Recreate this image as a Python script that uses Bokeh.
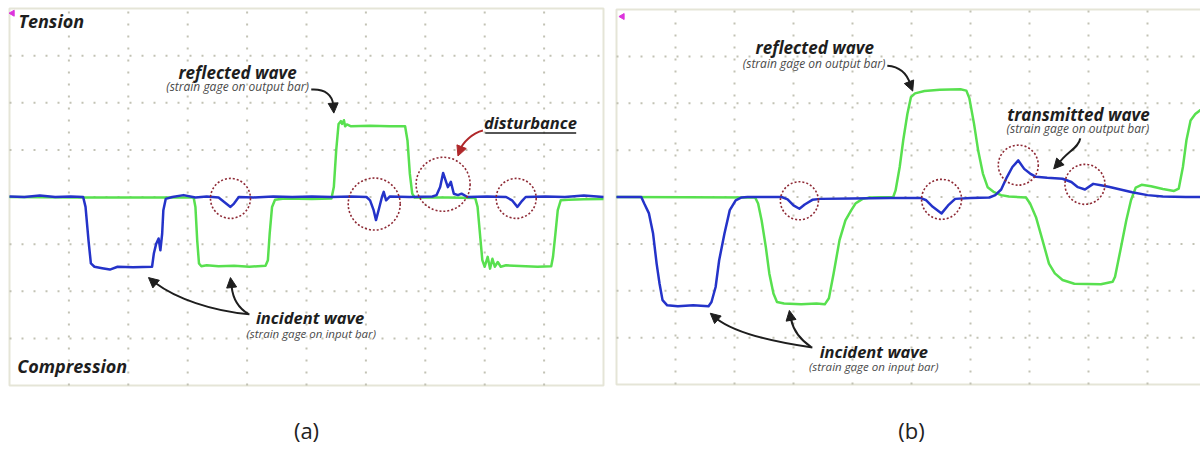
from bokeh.plotting import figure
from bokeh.models import Range1d, Label, Arrow, NormalHead, BoxAnnotation
from bokeh.layouts import row
from bokeh.embed import file_html
from bokeh.resources import INLINE

# ---------------- data (oscilloscope divisions) ----------------
# panel (a)
A_BLUE_X = [0, 0.25, 0.51, 0.77, 1.03, 1.24, 1.28, 1.33, 1.37, 1.43, 1.56, 1.69, 1.82, 2.08,
            2.40, 2.43, 2.47, 2.51, 2.54, 2.57, 2.59, 2.63, 2.74, 2.93, 3.13, 3.32, 3.52, 3.62,
            3.72, 3.78, 3.86, 4.11, 4.44, 4.76, 5.09, 5.42, 5.75, 6.01, 6.07, 6.13, 6.17, 6.22,
            6.27, 6.30, 6.34, 6.40, 6.73, 7.12, 7.19, 7.25, 7.30, 7.35, 7.38, 7.43, 7.48, 7.55,
            7.61, 7.71, 8.04, 8.36, 8.46, 8.55, 8.63, 8.69, 9.02, 9.35, 9.67, 10.0]
A_BLUE_Y = [0.01, 0, 0.03, 0, 0.01, 0, -0.21, -0.92, -1.41, -1.48, -1.51, -1.54, -1.48, -1.49,
            -1.48, -1.20, -0.99, -0.88, -1.13, -0.78, -0.28, -0.04, 0, 0.04, -0.01, 0.01, -0.01, -0.11,
            -0.21, -0.14, 0, -0.01, 0.01, 0, 0.01, 0, 0.01, 0, -0.07, -0.28, -0.49, -0.25,
            0, 0.11, -0.07, 0.01, 0, 0.01, 0.04, 0.21, 0.51, 0.32, 0.21, 0.32, 0.07, 0.04,
            0.07, 0, 0.01, 0, -0.07, -0.21, -0.08, 0, 0.01, 0, 0.03, 0]
A_GREEN_X = [0, 1.16, 1.82, 2.47, 3.10, 3.13, 3.16, 3.19, 3.23, 3.32, 3.52, 3.78, 4.04, 4.31,
             4.35, 4.38, 4.42, 4.47, 4.63, 5.09, 5.42, 5.46, 5.50, 5.54, 5.58, 5.60, 5.63, 5.65,
             5.68, 5.75, 6.07, 6.40, 6.66, 6.70, 6.74, 6.78, 6.82, 7.06, 7.38, 7.84, 7.88, 7.92,
             7.96, 8.00, 8.05, 8.09, 8.13, 8.17, 8.22, 8.27, 8.36, 8.69, 8.89, 9.12, 9.15, 9.19,
             9.23, 9.28, 9.41, 9.67, 10.0]
A_GREEN_Y = [0, -0.01, -0.01, -0.01, -0.01, -0.21, -0.92, -1.41, -1.47, -1.45, -1.47, -1.46, -1.48, -1.46,
             -1.34, -0.78, -0.21, -0.06, -0.03, -0.04, -0.03, 0.21, 0.99, 1.55, 1.61, 1.55, 1.63, 1.50,
             1.54, 1.50, 1.51, 1.50, 1.50, 1.20, 0.49, 0.07, -0.01, -0.01, -0.01, -0.02, -0.21, -0.78,
             -1.34, -1.48, -1.27, -1.52, -1.31, -1.48, -1.38, -1.48, -1.45, -1.47, -1.48, -1.47, -1.27, -0.78,
             -0.28, -0.07, -0.06, -0.05, -0.04]
A_CIRCLE_X = [3.72, 6.14, 7.30, 8.53]
A_CIRCLE_Y = [-0.03, -0.15, 0.27, -0.03]
A_CIRCLE_D = [40, 52, 54, 40]

# panel (b)
B_BLUE_X = [0, 0.42, 0.47, 0.55, 0.62, 0.68, 0.73, 0.78, 0.86, 1.04, 1.30, 1.56, 1.61, 1.68,
            1.74, 1.83, 1.92, 2.02, 2.12, 2.22, 2.80, 2.90, 3.00, 3.10, 3.19, 3.32, 3.46, 3.98,
            4.63, 5.15, 5.25, 5.36, 5.51, 5.62, 5.74, 6.00, 6.32, 6.42, 6.52, 6.62, 6.71, 6.81,
            6.91, 7.01, 7.11, 7.30, 7.56, 7.71, 7.82, 7.94, 8.08, 8.21, 8.34, 8.54, 8.74, 9.00,
            9.26, 9.65, 10.0]
B_BLUE_Y = [0, 0, -0.14, -0.35, -0.78, -1.42, -1.85, -2.20, -2.31, -2.33, -2.31, -2.33, -2.24, -1.92,
            -1.35, -0.78, -0.28, -0.07, -0.01, 0, 0, -0.05, -0.18, -0.25, -0.16, -0.06, -0.04, -0.03,
            -0.02, -0.02, -0.07, -0.21, -0.35, -0.18, -0.04, -0.02, -0.01, 0.04, 0.16, 0.43, 0.64, 0.78,
            0.60, 0.50, 0.43, 0.41, 0.39, 0.32, 0.21, 0.16, 0.28, 0.25, 0.22, 0.16, 0.10, 0.04,
            0.01, 0, 0]
B_GREEN_X = [0, 2.35, 2.40, 2.46, 2.53, 2.59, 2.66, 2.72, 2.84, 3.13, 3.39, 3.53, 3.60, 3.68,
             3.78, 3.88, 3.98, 4.05, 4.17, 4.30, 4.69, 4.73, 4.80, 4.86, 4.93, 4.99, 5.06, 5.22,
             5.48, 5.83, 5.93, 5.98, 6.06, 6.13, 6.21, 6.29, 6.39, 6.52, 6.65, 6.94, 7.01, 7.11,
             7.22, 7.33, 7.43, 7.56, 7.76, 8.21, 8.41, 8.45, 8.54, 8.64, 8.72, 8.80, 8.90, 9.06,
             9.26, 9.45, 9.53, 9.60, 9.66, 9.73, 9.81, 9.96]
B_GREEN_Y = [0, -0.01, -0.14, -0.50, -1.06, -1.63, -2.06, -2.24, -2.27, -2.29, -2.27, -2.29, -2.16, -1.63,
             -0.92, -0.50, -0.28, -0.14, -0.04, -0.01, 0, 0.14, 0.64, 1.21, 1.77, 2.13, 2.21, 2.26,
             2.29, 2.30, 2.27, 2.11, 1.56, 0.99, 0.50, 0.21, 0.11, 0.04, 0.01, -0.01, -0.14, -0.43,
             -0.92, -1.42, -1.63, -1.77, -1.85, -1.86, -1.81, -1.70, -1.14, -0.50, -0.07, 0.20, 0.26, 0.23,
             0.17, 0.13, 0.18, 0.64, 1.21, 1.63, 1.77, 1.92]
B_CIRCLE_X = [3.10, 5.51, 6.81, 7.94]
B_CIRCLE_Y = [-0.08, -0.05, 0.68, 0.27]
B_CIRCLE_D = [38, 40, 40, 40]

X_DIV_TICKS = [1, 2, 3, 4, 5, 6, 7, 8, 9]
Y_DIV_TICKS = [-3, -2, -1, 0, 1, 2, 3]

# ---------------- styles ----------------
BLUE = "#2433c9"
GREEN = "#58e04f"
FRAME = "#a8a87c"
GRIDC = "#c2c2b4"
TXT = "#1e1e1e"
SUB = "#4a4a4a"
RED = "#8e2a35"
FONT = "Open Sans"
H = 450
PX_PER_DIV_Y = 47.0
BASE_SHIFT = 0.45  # em fraction: raise labels so the visible baseline sits where wanted


def base_fig(width, px_left, px_per_x, px_top, px_per_y):
    x0 = -px_left / px_per_x
    x1 = (width - px_left) / px_per_x
    y1 = 4 + px_top / px_per_y
    y0 = y1 - H / px_per_y
    p = figure(width=width, height=H, x_range=Range1d(x0, x1), y_range=Range1d(y0, y1),
               x_axis_type=None, y_axis_type=None, title=None,
               output_backend="svg", toolbar_location=None,
               min_border_left=0, min_border_right=0, min_border_top=0, min_border_bottom=0)
    p.outline_line_color = None
    p.background_fill_color = "white"
    p.border_fill_color = "white"
    # dotted scope graticule
    p.segment(x0=X_DIV_TICKS, y0=[-4] * len(X_DIV_TICKS), x1=X_DIV_TICKS, y1=[4] * len(X_DIV_TICKS),
              line_color=GRIDC, line_width=2, line_dash="2 10")
    p.segment(x0=[0] * len(Y_DIV_TICKS), y0=Y_DIV_TICKS, x1=[10] * len(Y_DIV_TICKS), y1=Y_DIV_TICKS,
              line_color=GRIDC, line_width=2, line_dash="2 10")
    p.add_layout(BoxAnnotation(left=0, right=10, bottom=-4, top=4, fill_color=None,
                               line_color=FRAME, line_width=2, level="underlay"))
    return p


def _label(p, x, y, text, size, style, color, align="center"):
    dy = BASE_SHIFT * size / PX_PER_DIV_Y
    p.add_layout(Label(x=x, y=y + dy, text=text, text_align=align, text_baseline="alphabetic",
                       text_font=FONT, text_font_size=f"{size}px", text_font_style=style,
                       text_color=color))


def bold(p, x, y, text, size=16.5, align="center"):
    _label(p, x, y, text, size, "bold italic", TXT, align)


def small(p, x, y, text, size=12):
    _label(p, x, y, text, size, "italic", SUB)


def caption(p, x, y, text):
    _label(p, x, y, text, 22, "normal", "#222222")


def curved_arrow(p, pts, head, color=TXT):
    (x0, y0), (cx0, cy0), (cx1, cy1), (x1, y1) = pts
    p.bezier(x0=[x0], y0=[y0], x1=[x1], y1=[y1], cx0=[cx0], cy0=[cy0], cx1=[cx1], cy1=[cy1],
             line_color=color, line_width=2)
    (hx0, hy0), (hx1, hy1) = head
    p.add_layout(Arrow(end=NormalHead(size=10, fill_color=color, line_color=color, line_width=1),
                       x_start=hx0, y_start=hy0, x_end=hx1, y_end=hy1,
                       line_color=color, line_width=2))


# ---------------- panel (a) ----------------
pa = base_fig(608, 9, 59.4, 8, 47.125)

pa.line(A_GREEN_X, A_GREEN_Y, line_color=GREEN, line_width=2.5, line_join="round")
pa.line(A_BLUE_X, A_BLUE_Y, line_color=BLUE, line_width=2.5, line_join="round")
pa.scatter(A_CIRCLE_X, A_CIRCLE_Y, size=A_CIRCLE_D, marker="circle", fill_color=None,
           line_color=RED, line_width=1.6, line_dash="2 2")
pa.scatter([0.05], [3.9], marker="triangle", size=6, angle=1.5708, color="#dd33dd")

bold(pa, 0.15, 3.57, "Tension", 18, "left")
bold(pa, 0.13, -3.76, "Compression", 18, "left")
bold(pa, 3.84, 2.47, "reflected wave", 17)
small(pa, 3.84, 2.23, "(strain gage on output bar)")
bold(pa, 8.77, 1.43, "disturbance")
pa.segment(x0=[8.01], y0=[1.36], x1=[9.54], y1=[1.36], line_color=TXT, line_width=1.5)
bold(pa, 5.06, -2.71, "incident wave")
small(pa, 5.08, -3.0, "(strain gage on input bar)", 11.5)

curved_arrow(pa, [(5.08, 2.28), (5.32, 2.30), (5.44, 2.15), (5.45, 1.95)], [(5.45, 1.97), (5.46, 1.78)])
curved_arrow(pa, [(7.97, 1.41), (7.80, 1.36), (7.62, 1.15), (7.58, 0.98)], [(7.59, 1.0), (7.55, 0.87)],
             color="#b0282a")
curved_arrow(pa, [(4.04, -2.49), (3.4, -2.42), (2.8, -2.15), (2.45, -1.82)], [(2.47, -1.85), (2.34, -1.71)])
curved_arrow(pa, [(4.02, -2.48), (3.85, -2.35), (3.76, -2.15), (3.74, -1.90)], [(3.74, -1.92), (3.72, -1.71)])
caption(pa, 5.0, -5.16, "(a)")

# ---------------- panel (b) ----------------
pb = base_fig(592, 8, 59.0, 9, 46.875)

pb.line(B_GREEN_X, B_GREEN_Y, line_color=GREEN, line_width=2.5, line_join="round")
pb.line(B_BLUE_X, B_BLUE_Y, line_color=BLUE, line_width=2.5, line_join="round")
pb.scatter(B_CIRCLE_X, B_CIRCLE_Y, size=B_CIRCLE_D, marker="circle", fill_color=None,
           line_color=RED, line_width=1.6, line_dash="2 2")
pb.scatter([0.1], [3.85], marker="triangle", size=6, angle=1.5708, color="#dd33dd")

bold(pb, 3.36, 3.02, "reflected wave", 17)
small(pb, 3.35, 2.74, "(strain gage on output bar)")
bold(pb, 7.83, 1.59, "transmitted wave", 17)
small(pb, 7.82, 1.35, "(strain gage on output bar)")
bold(pb, 4.36, -3.46, "incident wave")
small(pb, 4.36, -3.72, "(strain gage on input bar)", 11.5)

curved_arrow(pb, [(4.59, 2.80), (4.80, 2.78), (4.93, 2.62), (4.98, 2.40)], [(4.97, 2.42), (5.02, 2.26)])
curved_arrow(pb, [(7.86, 1.25), (7.84, 1.05), (7.62, 0.95), (7.50, 0.72)], [(7.51, 0.74), (7.41, 0.60)])
curved_arrow(pb, [(3.32, -3.21), (2.7, -3.1), (2.0, -2.9), (1.68, -2.58)], [(1.70, -2.60), (1.59, -2.48)])
curved_arrow(pb, [(3.30, -3.20), (3.12, -3.05), (3.0, -2.85), (2.96, -2.62)], [(2.96, -2.64), (2.93, -2.42)])
caption(pb, 5.0, -5.19, "(b)")

layout = row(pa, pb)
open("out.html", "w").write(file_html(layout, INLINE))
